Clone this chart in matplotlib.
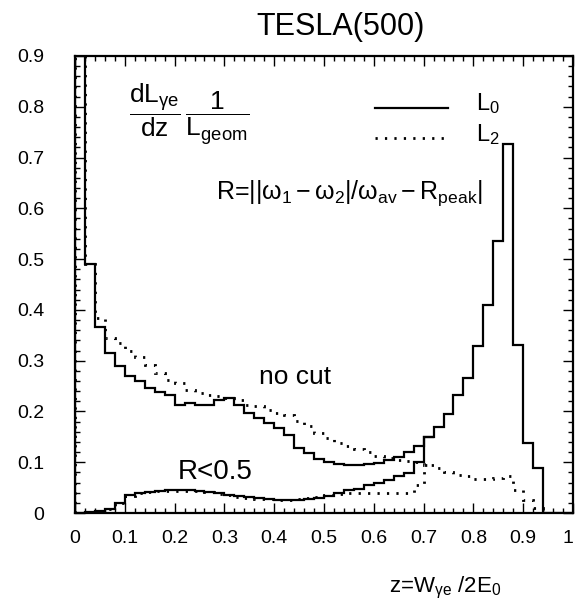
import numpy as np
import matplotlib
matplotlib.use('Agg')
import matplotlib.pyplot as plt
from matplotlib.ticker import MultipleLocator, FixedLocator, FixedFormatter

plt.rcParams['font.family'] = ['Liberation Sans', 'DejaVu Sans']
plt.rcParams['mathtext.fontset'] = 'custom'
plt.rcParams['mathtext.rm'] = 'Liberation Sans'
plt.rcParams['mathtext.it'] = 'Liberation Sans'
plt.rcParams['mathtext.bf'] = 'Liberation Sans:bold'

# ---- data (histograms, bin width 0.02 over z = 0 .. 1) ----
bin_width = 0.02
z_min, z_max = 0.0, 1.0

# L0, no cut (solid)
l0_nocut = [2.0, 0.490, 0.367, 0.315, 0.289, 0.270, 0.259, 0.246, 0.239, 0.233,
            0.212, 0.216, 0.212, 0.212, 0.222, 0.226, 0.213, 0.197, 0.187, 0.177,
            0.167, 0.154, 0.128, 0.118, 0.106, 0.100, 0.097, 0.095, 0.095, 0.097,
            0.098, 0.105, 0.111, 0.121, 0.131, 0.149, 0.170, 0.195, 0.233, 0.266,
            0.328, 0.410, 0.535, 0.726, 0.331, 0.138, 0.089, 0.0, 0.0, 0.0]

# L2, no cut (dotted)
l2_nocut = [2.0, 0.490, 0.384, 0.345, 0.334, 0.320, 0.308, 0.292, 0.276, 0.262,
            0.256, 0.243, 0.236, 0.233, 0.231, 0.226, 0.223, 0.213, 0.210, 0.203,
            0.197, 0.193, 0.182, 0.172, 0.158, 0.147, 0.137, 0.132, 0.126, 0.120,
            0.113, 0.108, 0.105, 0.103, 0.100, 0.095, 0.088, 0.080, 0.075, 0.072,
            0.067, 0.066, 0.069, 0.073, 0.045, 0.025, 0.010, 0.0, 0.0, 0.0]

# L0, R<0.5 (solid) -- joins the no-cut curve at z = 0.70
l0_rcut = [0.000, 0.002, 0.004, 0.008, 0.020, 0.035, 0.040, 0.042, 0.044, 0.045,
           0.045, 0.045, 0.044, 0.042, 0.040, 0.036, 0.033, 0.031, 0.029, 0.027,
           0.026, 0.026, 0.026, 0.027, 0.029, 0.033, 0.040, 0.045, 0.048, 0.055,
           0.059, 0.065, 0.072, 0.078, 0.100, 0.149]

# L2, R<0.5 (dotted) -- joins the no-cut curve at z = 0.70
l2_rcut = [0.000, 0.002, 0.004, 0.008, 0.020, 0.034, 0.040, 0.042, 0.043, 0.044,
           0.044, 0.044, 0.043, 0.041, 0.038, 0.035, 0.032, 0.030, 0.028, 0.027,
           0.026, 0.026, 0.027, 0.029, 0.031, 0.035, 0.038, 0.039, 0.039, 0.039,
           0.039, 0.039, 0.039, 0.040, 0.055, 0.095]

x_ticks = [0, 0.1, 0.2, 0.3, 0.4, 0.5, 0.6, 0.7, 0.8, 0.9, 1.0]
x_ticklabels = ['0', '0.1', '0.2', '0.3', '0.4', '0.5', '0.6', '0.7', '0.8', '0.9', '1']
y_ticks = [0, 0.1, 0.2, 0.3, 0.4, 0.5, 0.6, 0.7, 0.8, 0.9]
y_ticklabels = ['0', '0.1', '0.2', '0.3', '0.4', '0.5', '0.6', '0.7', '0.8', '0.9']

# ---- figure ----
fig = plt.figure(figsize=(5.75, 6.01), dpi=100)
ax = fig.add_axes([75/575, 1-513/601, 498/575, 457/601])

def edges_for(vals):
    return z_min + bin_width * np.arange(len(vals) + 1)

dotted = (0, (0.8, 2.6))
lw = 1.6
ax.stairs(l0_nocut, edges_for(l0_nocut), color='black', lw=lw, baseline=0)
ax.stairs(l2_nocut, edges_for(l2_nocut), color='black', lw=2.0, linestyle=dotted, baseline=0)
ax.stairs(l0_rcut, edges_for(l0_rcut), color='black', lw=lw, baseline=None)
ax.stairs(l2_rcut, edges_for(l2_rcut), color='black', lw=2.0, linestyle=dotted, baseline=None)

ax.set_xlim(z_min, z_max)
ax.set_ylim(0, 0.9)

ax.xaxis.set_major_locator(FixedLocator(x_ticks))
ax.xaxis.set_major_formatter(FixedFormatter(x_ticklabels))
ax.yaxis.set_major_locator(FixedLocator(y_ticks))
ax.yaxis.set_major_formatter(FixedFormatter(y_ticklabels))
ax.xaxis.set_minor_locator(MultipleLocator(0.02))
ax.yaxis.set_minor_locator(MultipleLocator(0.02))
ax.tick_params(which='both', direction='in', top=True, right=True, width=1.0, color='black')
ax.tick_params(which='major', length=7)
ax.tick_params(which='minor', length=3.5)
ax.tick_params(axis='x', which='major', labelsize=14, pad=12)
ax.tick_params(axis='y', which='major', labelsize=14, pad=22)
for s in ax.spines.values():
    s.set_linewidth(1.6)
ax.get_xticklabels()[-1].set_horizontalalignment('right')

# ---- texts ----
fig.text(341/575, 1-27/601, 'TESLA(500)', ha='center', va='center', fontsize=22)

ax.text(0.229, 0.872,
        r'$\dfrac{\mathrm{dL}_{\gamma\mathrm{e}}}{\mathrm{dz}}\,\dfrac{1}{\mathrm{L}_{\mathrm{geom}}}$',
        transform=ax.transAxes, ha='center', va='center', fontsize=19)

ax.plot([0.602, 0.749], [0.886, 0.886], transform=ax.transAxes, color='black', lw=lw)
ax.plot([0.602, 0.749], [0.821, 0.821], transform=ax.transAxes, color='black', lw=2.0, linestyle=dotted)
ax.text(0.805, 0.895, r'L$_0$', transform=ax.transAxes, ha='left', va='center', fontsize=17)
ax.text(0.805, 0.828, r'L$_2$', transform=ax.transAxes, ha='left', va='center', fontsize=17)

ax.text(0.283, 0.700,
        r'R=$||\omega_1-\omega_2|/\omega_{\mathrm{av}}-\mathrm{R}_{\mathrm{peak}}|$',
        transform=ax.transAxes, ha='left', va='center', fontsize=18)

ax.text(0.442, 0.298, 'no cut', transform=ax.transAxes, ha='center', va='center', fontsize=19)
ax.text(0.281, 0.090, 'R<0.5', transform=ax.transAxes, ha='center', va='center', fontsize=20)

fig.text(445/575, 1-588/601, r'z=W$_{\gamma\mathrm{e}}$ /2E$_0$', ha='center', va='center', fontsize=16)

fig.savefig('out.png', dpi=100)
